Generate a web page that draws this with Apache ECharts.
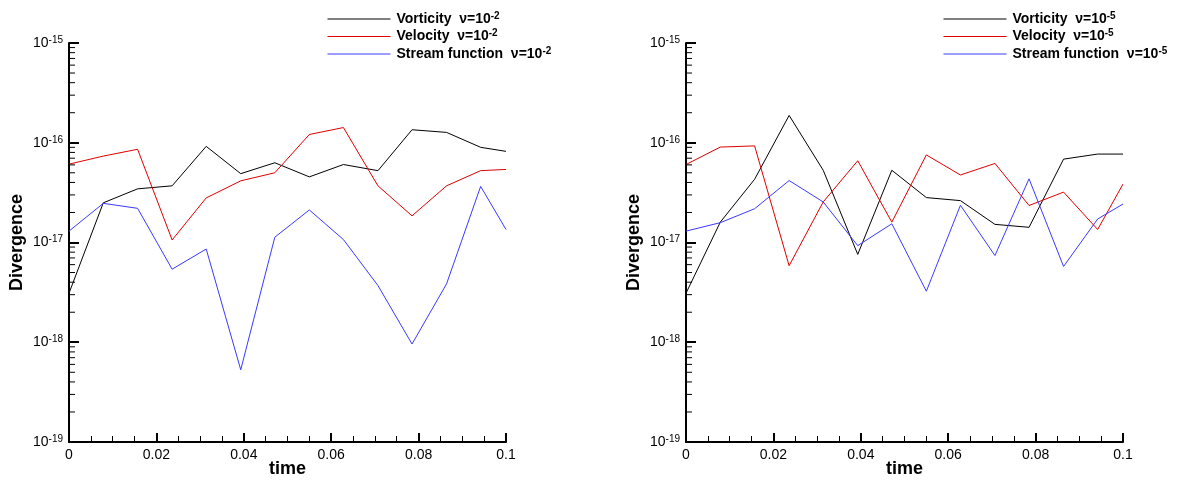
<!DOCTYPE html>
<html>
<head>
<meta charset="utf-8">
<script src="https://cdn.jsdelivr.net/npm/echarts@6/dist/echarts.min.js"></script>
<style>
html,body{margin:0;padding:0;background:#fff;}
#chart{width:1181px;height:480px;}
</style>
</head>
<body>
<div id="chart"></div>
<script>
var FONT = '"Liberation Sans", Arial, Helvetica, sans-serif';

// sample times
var times = [0, 0.00785, 0.0157, 0.0236, 0.0314, 0.0393, 0.0471, 0.055, 0.0628, 0.0707, 0.0785, 0.0864, 0.0942, 0.1];

// nu = 1e-2 (left panel)
var vort_2   = [3.1e-18, 2.5e-17, 3.45e-17, 3.7e-17, 9.2e-17, 4.9e-17, 6.3e-17, 4.55e-17, 6.05e-17, 5.25e-17, 1.35e-16, 1.27e-16, 9.0e-17, 8.2e-17];
var vel_2    = [6.1e-17, 7.35e-17, 8.6e-17, 1.06e-17, 2.8e-17, 4.15e-17, 5.0e-17, 1.21e-16, 1.42e-16, 3.7e-17, 1.85e-17, 3.7e-17, 5.25e-17, 5.4e-17];
var stream_2 = [1.3e-17, 2.47e-17, 2.2e-17, 5.4e-18, 8.6e-18, 5.3e-19, 1.13e-17, 2.12e-17, 1.07e-17, 3.7e-18, 9.6e-19, 3.85e-18, 3.65e-17, 1.35e-17];

// nu = 1e-5 (right panel)
var vort_5   = [3.1e-18, 1.6e-17, 4.3e-17, 1.88e-16, 5.3e-17, 7.6e-18, 5.3e-17, 2.82e-17, 2.63e-17, 1.52e-17, 1.42e-17, 6.85e-17, 7.7e-17, 7.7e-17];
var vel_5    = [6.05e-17, 9.05e-17, 9.3e-17, 5.85e-18, 2.55e-17, 6.6e-17, 1.6e-17, 7.55e-17, 4.75e-17, 6.2e-17, 2.35e-17, 3.2e-17, 1.35e-17, 3.85e-17];
var stream_5 = [1.3e-17, 1.58e-17, 2.18e-17, 4.18e-17, 2.55e-17, 9.3e-18, 1.54e-17, 3.25e-18, 2.36e-17, 7.4e-18, 4.35e-17, 5.75e-18, 1.72e-17, 2.43e-17];

var names_2 = ['Vorticity  \u03bd=10^-2', 'Velocity  \u03bd=10^-2', 'Stream function  \u03bd=10^-2'];
var names_5 = ['Vorticity  \u03bd=10^-5', 'Velocity  \u03bd=10^-5', 'Stream function  \u03bd=10^-5'];
var colors = ['#000000', '#e00000', '#3a3aff'];

// log axis: decades and minor tick multipliers
var decades = [-19, -18, -17, -16];
var minorMult = [2, 3, 4, 5, 6, 7, 8, 9];
var minorTicks = [];
decades.forEach(function (d) {
    minorMult.forEach(function (m) { minorTicks.push(m * Math.pow(10, d)); });
});

function pairs(ys) {
    return times.map(function (t, i) { return [t, ys[i]]; });
}

function superRich(name) {
    var p = name.split('^');
    return '{b|' + p[0] + '}{s|' + p[1] + '}';
}

function makeX(idx) {
    return {
        type: 'value', gridIndex: idx, min: 0, max: 0.1, interval: 0.02,
        name: 'time', nameLocation: 'middle', nameGap: 18, nameMoveOverlap: false,
        nameTextStyle: {fontSize: 18, fontWeight: 'bold', color: '#000', fontFamily: FONT},
        axisLine: {lineStyle: {color: '#000', width: 2}},
        axisTick: {inside: true, length: 9, lineStyle: {color: '#000', width: 2}},
        minorTick: {show: true, splitNumber: 4, length: 6, lineStyle: {color: '#000', width: 1}},
        splitLine: {show: false},
        axisLabel: {margin: 6, fontSize: 14, color: '#000', fontFamily: FONT}
    };
}

function makeY(idx) {
    return {
        type: 'log', logBase: 10, gridIndex: idx, min: 1e-19, max: 1e-15, splitNumber: 4,
        name: 'Divergence', nameLocation: 'middle', nameGap: 43, nameMoveOverlap: false,
        nameTextStyle: {fontSize: 18, fontWeight: 'bold', color: '#000', fontFamily: FONT},
        axisLine: {show: true, lineStyle: {color: '#000', width: 2}},
        axisTick: {show: true, inside: true, length: 10, lineStyle: {color: '#000', width: 2}},
        splitLine: {show: false},
        axisLabel: {
            margin: 6,
            formatter: function (v) {
                return '{b|10}{s|' + Math.round(Math.log10(v)) + '}';
            },
            rich: {
                b: {fontSize: 14, color: '#000', fontFamily: FONT, lineHeight: 16},
                s: {fontSize: 10, color: '#000', fontFamily: FONT, verticalAlign: 'top', lineHeight: 10}
            }
        }
    };
}

function makeLegend(idx, left, names) {
    return {
        orient: 'vertical', left: left, top: 6,
        itemWidth: 63, itemHeight: 14, itemGap: 2.5,
        data: names,
        formatter: superRich,
        itemStyle: {opacity: 0},
        lineStyle: {width: 1},
        textStyle: {
            padding: [0, 0, 0, 1],
            rich: {
                b: {fontSize: 14, fontWeight: 'bold', color: '#000', fontFamily: FONT, lineHeight: 16},
                s: {fontSize: 10, fontWeight: 'bold', color: '#000', fontFamily: FONT, verticalAlign: 'top', lineHeight: 10}
            }
        }
    };
}

function lineSeries(idx, name, ys, color) {
    return {
        type: 'line', name: name, xAxisIndex: idx, yAxisIndex: idx,
        data: pairs(ys), symbol: 'none', showSymbol: false,
        color: color,
        lineStyle: {color: color, width: 1},
        animation: false
    };
}

function minorTickSeries(idx) {
    return {
        type: 'custom', xAxisIndex: idx, yAxisIndex: idx, silent: true, clip: false, z: 5,
        data: minorTicks.map(function (v) { return [0, v]; }),
        renderItem: function (params, api) {
            var p = api.coord([0, api.value(1)]);
            return {
                type: 'line',
                shape: {x1: p[0], y1: p[1], x2: p[0] + 6, y2: p[1]},
                style: {stroke: '#000', lineWidth: 1}
            };
        },
        animation: false
    };
}

var myChart = echarts.init(document.getElementById('chart'));

var option = {
    backgroundColor: '#fff',
    animation: false,
    grid: [
        {left: 69, top: 43, width: 437, height: 399, outerBoundsMode: 'none', containLabel: false},
        {left: 686, top: 43, width: 437, height: 399, outerBoundsMode: 'none', containLabel: false}
    ],
    legend: [makeLegend(0, 322, names_2), makeLegend(1, 938, names_5)],
    xAxis: [makeX(0), makeX(1)],
    yAxis: [makeY(0), makeY(1)],
    series: [
        lineSeries(0, names_2[0], vort_2, colors[0]),
        lineSeries(0, names_2[1], vel_2, colors[1]),
        lineSeries(0, names_2[2], stream_2, colors[2]),
        lineSeries(1, names_5[0], vort_5, colors[0]),
        lineSeries(1, names_5[1], vel_5, colors[1]),
        lineSeries(1, names_5[2], stream_5, colors[2]),
        minorTickSeries(0),
        minorTickSeries(1)
    ]
};
myChart.setOption(option);
</script>
</body>
</html>
